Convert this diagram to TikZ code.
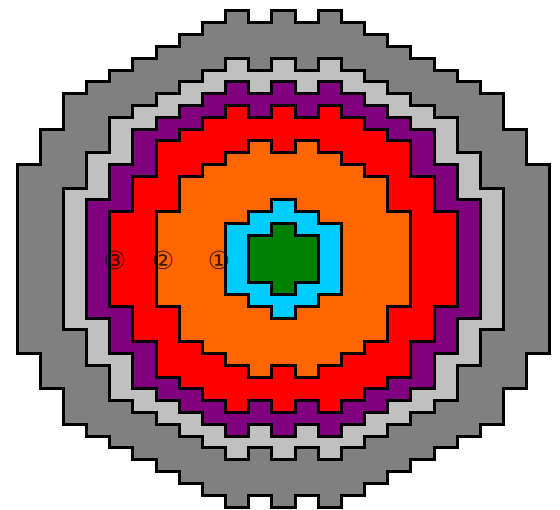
\documentclass[tikz,border=0pt]{standalone}
\usepackage{fontspec}
\newfontfamily\symfont{DejaVu Sans}
\definecolor{cgray}{HTML}{808080}
\definecolor{clgray}{HTML}{C0C0C0}
\definecolor{cpurple}{HTML}{800080}
\definecolor{cred}{HTML}{FF0000}
\definecolor{corange}{HTML}{FF6600}
\definecolor{ccyan}{HTML}{00CCFF}
\definecolor{cgreen}{HTML}{008000}
\tikzset{
  zone/.style={fill=#1, draw=black, line width=3pt, line join=miter},
  lbl/.style={font=\symfont\fontsize{25}{25}\selectfont, text=black, text opacity=0.75, inner sep=0pt}
}
% #1 colour, #2 first column, #3 list col/top for top profile (left to right), #4 same list reversed
\newcommand\zoneregion[4]{%
  \path[zone=#1] (#2,21) \foreach \c/\t in {#3} { -- (\c,\t) -- (\c+1,\t) }
    \foreach \c/\t in {#4} { -- (\c+1,42-\t) -- (\c,42-\t) } -- cycle;
}
\begin{document}
\begin{tikzpicture}
\useasboundingbox (0,0) rectangle (560pt,-510pt);
\begin{scope}[shift={(17pt,-11pt)}, x=23.17pt, y=-11.81pt]
\zoneregion{cgray}{0}{0/13,1/10,2/7,3/6,4/5,5/4,6/3,7/2,8/1,9/0,10/1,11/0,12/1,13/0,14/1,15/2,16/3,17/4,18/5,19/6,20/7,21/10,22/13}{22/13,21/10,20/7,19/6,18/5,17/4,16/3,15/2,14/1,13/0,12/1,11/0,10/1,9/0,8/1,7/2,6/3,5/4,4/5,3/6,2/7,1/10,0/13}
\zoneregion{clgray}{2}{2/15,3/12,4/9,5/8,6/7,7/6,8/5,9/4,10/5,11/4,12/5,13/4,14/5,15/6,16/7,17/8,18/9,19/12,20/15}{20/15,19/12,18/9,17/8,16/7,15/6,14/5,13/4,12/5,11/4,10/5,9/4,8/5,7/6,6/7,5/8,4/9,3/12,2/15}
\zoneregion{cpurple}{3}{3/16,4/13,5/10,6/9,7/8,8/7,9/6,10/7,11/6,12/7,13/6,14/7,15/8,16/9,17/10,18/13,19/16}{19/16,18/13,17/10,16/9,15/8,14/7,13/6,12/7,11/6,10/7,9/6,8/7,7/8,6/9,5/10,4/13,3/16}
\zoneregion{cred}{4}{4/17,5/14,6/11,7/10,8/9,9/8,10/9,11/8,12/9,13/8,14/9,15/10,16/11,17/14,18/17}{18/17,17/14,16/11,15/10,14/9,13/8,12/9,11/8,10/9,9/8,8/9,7/10,6/11,5/14,4/17}
\zoneregion{corange}{6}{6/17,7/14,8/13,9/12,10/11,11/12,12/11,13/12,14/13,15/14,16/17}{16/17,15/14,14/13,13/12,12/11,11/12,10/11,9/12,8/13,7/14,6/17}
\zoneregion{ccyan}{9}{9/18,10/17,11/16,12/17,13/18}{13/18,12/17,11/16,10/17,9/18}
\zoneregion{cgreen}{10}{10/19,11/18,12/19}{12/19,11/18,10/19}
\end{scope}
\node[lbl] (l3) at (115pt,-260pt) {③};
\node[lbl] (l2) at (163pt,-260pt) {②};
\node[lbl] (l1) at (219pt,-260pt) {①};
\end{tikzpicture}
\end{document}
